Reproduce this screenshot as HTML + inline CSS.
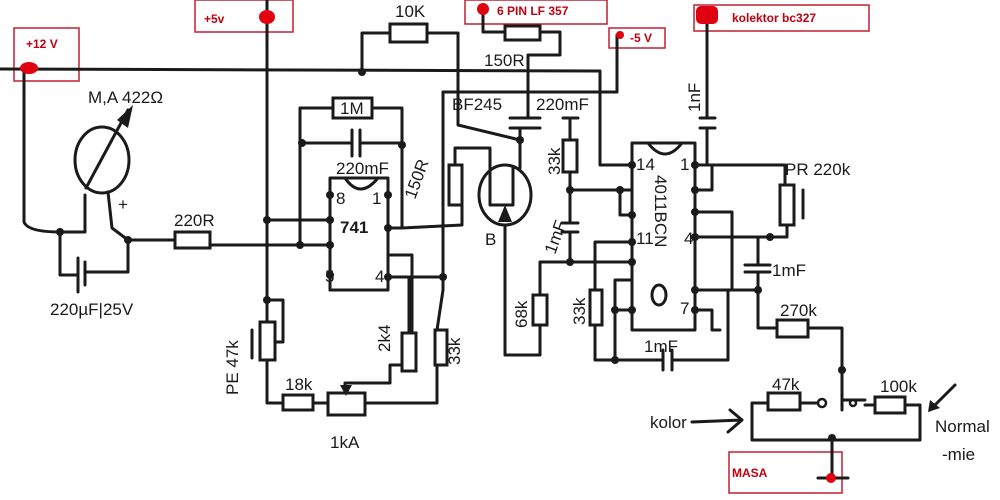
<!DOCTYPE html>
<html><head><meta charset="utf-8"><style>
html,body{margin:0;padding:0;background:#fff;width:1000px;height:500px;overflow:hidden}
svg{display:block}
.w{stroke:#1a1a1a;stroke-width:3;fill:none;stroke-linecap:round;stroke-linejoin:round}
.b{stroke:#1a1a1a;stroke-width:3;fill:#fff}
.n{fill:#1a1a1a}
.t{font-family:"Liberation Sans",sans-serif;fill:#1a1a1a;font-size:17px}
.r{font-family:"Liberation Sans",sans-serif;fill:#c00010;font-weight:bold;font-size:12px}
.rb{fill:none;stroke:#c02030;stroke-width:1.5}
</style></head><body>
<svg width="1000" height="500" viewBox="0 0 1000 500">
<rect class="rb" x="14" y="28" width="65" height="53"/><text class="r" x="26" y="48">+12 V</text>
<rect class="rb" x="195" y="0" width="98" height="32"/><text class="r" x="204" y="23">+5v</text>
<rect class="rb" x="465" y="0" width="142" height="24"/><text class="r" x="497" y="15">6 PIN LF 357</text>
<rect class="rb" x="609" y="28" width="56" height="20"/><text class="r" x="630" y="42">-5 V</text>
<rect class="rb" x="694" y="5" width="175" height="26"/><text class="r" x="732" y="22">kolektor bc327</text>
<rect class="rb" x="729" y="452" width="113" height="41"/><text class="r" x="732" y="477">MASA</text>
<path class="w" d="M0 69 L600 71 L600 165 L632 165"/>
<path class="w" d="M24 70 L24 222 Q28 232 60 232 L85 232 L85 195"/>
<path class="w" d="M267 0 L267 403 L283 403"/>
<path class="w" d="M362 72 L362 33 L390 33 M427 33 L458 33 L458 125 L520 140"/>
<rect class="b" x="390" y="24" width="37" height="18"/><text class="t" x="395" y="17">10K</text>
<path class="w" d="M483 10 L483 32 L505 32 M540 32 L560 32 L560 55 L528 55 L528 92"/>
<rect class="b" x="505" y="26" width="35" height="14"/><text class="t" x="484" y="66" font-size="15">150R</text>
<path class="w" d="M443 92 L617 92 L617 35"/>
<path class="w" d="M443 92 L443 290"/>
<path class="w" d="M707 15 L707 118 M707 130 L707 165"/>
<ellipse class="w" cx="102" cy="160" rx="27" ry="33"/>
<path class="w" d="M86 188 L128 110"/>
<polygon class="n" points="133,105 117,120 128,128"/>
<text class="t" x="88" y="103" font-size="20">M,A 422Ω</text>
<text class="t" x="118" y="210" font-size="20">+</text>
<path class="w" d="M108 192 L112 228 L128 240 L175 240"/>
<rect class="b" x="175" y="232" width="35" height="16"/>
<text class="t" x="174" y="226">220R</text>
<path class="w" d="M210 245 L330 245"/>
<path class="w" d="M60 232 L60 275 L78 275 M78 258 L78 292 M85 262 L85 285 M85 272 L128 272 L128 240"/>
<text class="t" x="50" y="315" font-size="19">220µF|25V</text>
<rect class="w" x="330" y="178" width="58" height="112"/>
<path class="w" d="M345 178 Q360 200 378 178"/>
<text class="t" x="336" y="204">8</text><text class="t" x="372" y="204">1</text>
<text class="t" x="340" y="233" font-size="11" font-weight="bold">741</text>
<text class="t" x="325" y="282">5</text><text class="t" x="375" y="282">4</text>
<path class="w" d="M267 220 L330 220 M300 245 L300 108 L333 108 M372 108 L402 108 L402 228 M300 143 L352 143 M360 143 L402 143 M352 130 L352 156 M360 130 L360 156"/>
<rect class="b" x="333" y="98" width="39" height="20"/><text class="t" x="340" y="114">1M</text>
<text class="t" x="336" y="174">220mF</text>
<path class="w" d="M388 228 L402 228 L462 225 L462 205 M455 165 L455 148 L490 148 L490 170"/>
<rect class="b" x="449" y="165" width="13" height="40"/>
<text class="t" x="415" y="200" transform="rotate(-70 415 200)">150R</text>
<path class="w" d="M388 277 L443 277 M388 255 L412 255 L412 335 M330 275 L330 290"/>
<rect class="b" x="260" y="322" width="15" height="38"/>
<path class="w" d="M267 300 L283 300 L283 342 L275 342 M252 330 L252 358"/>
<text class="t" x="238" y="395" transform="rotate(-90 238 395)" font-size="15">PE 47k</text>
<rect class="b" x="283" y="395" width="30" height="15"/><text class="t" x="285" y="390">18k</text>
<path class="w" d="M313 403 L328 403"/>
<rect class="b" x="328" y="393" width="37" height="22"/>
<text class="t" x="330" y="448" font-size="20">1kA</text>
<path class="w" d="M365 403 L437 403 L437 365"/>
<rect class="b" x="435" y="330" width="12" height="35"/>
<path class="w" d="M437 330 L443 290"/>
<rect class="b" x="402" y="333" width="14" height="38"/>
<path class="w" d="M409 333 L409 277 M402 365 L390 365 L390 383 L345 383 L345 393"/>
<polygon class="n" points="340,385 352,385 346,396"/>
<text class="t" x="390" y="352" transform="rotate(-90 390 352)" font-size="14">2k4</text>
<text class="t" x="460" y="365" transform="rotate(-90 460 365)" font-size="14">33k</text>
<ellipse class="w" cx="505" cy="195" rx="26" ry="30"/>
<path class="w" d="M490 170 L490 205 M513 168 L513 205 M490 205 L513 205 M520 140 L520 168 M505 225 L505 355 L540 355 L540 325"/>
<polygon class="n" points="505,205 498,222 512,222"/>
<text class="t" x="452" y="110" font-size="16">BF245</text>
<text class="t" x="485" y="245" font-size="19">B</text>
<path class="w" d="M528 92 L528 118 M510 118 L540 118 M510 128 L540 128 M520 128 L520 140"/>
<text class="t" x="536" y="110" font-size="16">220mF</text>
<rect class="b" x="533" y="295" width="14" height="30"/>
<path class="w" d="M540 295 L540 262 L632 262"/>
<text class="t" x="527" y="328" transform="rotate(-90 527 328)" font-size="15">68k</text>
<path class="w" d="M563 118 L578 118 M570 118 L570 140 M570 172 L570 223 M562 223 L578 223 M562 232 L578 232 M570 232 L570 262 M570 190 L632 190 M620 190 L620 215 L632 215"/>
<rect class="b" x="563" y="140" width="14" height="32"/>
<text class="t" x="560" y="175" transform="rotate(-90 560 175)" font-size="15">33k</text>
<text class="t" x="555" y="255" transform="rotate(-70 555 255)" font-size="15">1mF</text>
<rect class="w" x="632" y="143" width="63" height="187"/>
<path class="w" d="M648 143 Q665 165 682 143"/>
<text class="t" x="655" y="175" transform="rotate(90 655 175)" font-size="20">4011BCN</text>
<text class="t" x="636" y="170" font-size="12">14</text><text class="t" x="680" y="170" font-size="12">1</text>
<text class="t" x="636" y="244" font-size="12">11</text><text class="t" x="684" y="244" font-size="12">4</text>
<text class="t" x="680" y="314" font-size="12">7</text>
<ellipse class="w" cx="659" cy="295" rx="7" ry="10"/>
<path class="w" d="M632 242 L595 242 L595 290 M595 325 L595 360 L663 360 M672 360 L728 360 L728 290 M663 350 L663 370 M672 350 L672 370 M632 280 L615 280 L615 360 M632 310 L618 310"/>
<rect class="b" x="590" y="290" width="12" height="35"/>
<text class="t" x="585" y="325" transform="rotate(-90 585 325)" font-size="15">33k</text>
<text class="t" x="644" y="352" font-size="14">1mF</text>
<path class="w" d="M695 165 L785 165 L785 185 M695 190 L712 190 L712 165 M695 212 L732 212 L732 290 M695 237 L770 237 M695 290 L758 290 M695 310 L712 310 L712 330 L720 330 M745 265 L770 265 M745 272 L770 272 M758 237 L758 265 M758 272 L758 328 L777 328"/>
<path class="w" d="M700 118 L715 118 M700 128 L715 128"/>
<text class="t" x="700" y="112" transform="rotate(-90 700 112)" font-size="15">1nF</text>
<rect class="b" x="780" y="185" width="14" height="40"/>
<path class="w" d="M787 225 L787 237 L770 237 M803 190 L803 218"/>
<text class="t" x="785" y="175" font-size="18">PR 220k</text>
<text class="t" x="772" y="276" font-size="16">1mF</text>
<rect class="b" x="777" y="320" width="31" height="17"/><text class="t" x="780" y="316">270k</text>
<path class="w" d="M808 328 L842 328 L842 400 L865 400 M842 400 L842 410"/>
<path class="w" d="M820 403 L800 403 M768 403 L752 403 L752 440 L920 440 L920 405 L905 405 M875 405 L865 405 M832 440 L832 478 M818 478 L848 478"/>
<rect class="b" x="768" y="393" width="32" height="17"/><text class="t" x="772" y="390">47k</text>
<rect class="b" x="875" y="397" width="30" height="16"/><text class="t" x="880" y="392">100k</text>
<circle cx="822" cy="403" r="4" class="b" style="stroke-width:2.5"/><circle cx="853" cy="403" r="3" class="b" style="stroke-width:2.5"/>
<text class="t" x="650" y="428" font-size="18">kolor</text>
<path class="w" d="M692 422 L742 420 M730 410 L742 420 L728 432"/>
<path class="w" d="M955 385 L930 410"/><polygon class="n" points="928,412 930,400 940,408"/>
<text class="t" x="935" y="432" font-size="18">Normal</text><text class="t" x="942" y="460" font-size="18">-mie</text>
<g class="n">
<circle cx="362" cy="72" r="4"/><circle cx="267" cy="220" r="4"/><circle cx="300" cy="245" r="4"/><circle cx="60" cy="232" r="4"/>
<circle cx="128" cy="240" r="4"/><circle cx="302" cy="143" r="4"/><circle cx="402" cy="145" r="4"/><circle cx="330" cy="195" r="4"/>
<circle cx="388" cy="195" r="4"/><circle cx="330" cy="220" r="4"/><circle cx="330" cy="245" r="4"/><circle cx="330" cy="275" r="4"/>
<circle cx="388" cy="228" r="4"/><circle cx="388" cy="277" r="4"/><circle cx="443" cy="277" r="4"/><circle cx="267" cy="300" r="4"/>
<circle cx="520" cy="140" r="4"/><circle cx="570" cy="190" r="4"/><circle cx="570" cy="262" r="4"/><circle cx="620" cy="190" r="4"/>
<circle cx="632" cy="165" r="4"/><circle cx="632" cy="215" r="4"/><circle cx="632" cy="242" r="4"/><circle cx="632" cy="262" r="4"/>
<circle cx="615" cy="310" r="4"/><circle cx="632" cy="310" r="4"/><circle cx="615" cy="360" r="4"/><circle cx="695" cy="165" r="4"/>
<circle cx="695" cy="190" r="4"/><circle cx="695" cy="212" r="4"/><circle cx="695" cy="237" r="4"/><circle cx="695" cy="290" r="4"/>
<circle cx="695" cy="310" r="4"/><circle cx="758" cy="290" r="4"/><circle cx="770" cy="237" r="4"/><circle cx="842" cy="370" r="4"/>
<circle cx="832" cy="438" r="4"/>
</g>
<g fill="#e00010">
<ellipse cx="29" cy="68" rx="9" ry="6"/><ellipse cx="267" cy="17" rx="8" ry="7"/><circle cx="483" cy="9" r="6"/>
<circle cx="620" cy="35" r="4"/><rect x="696" y="6" width="22" height="18" rx="5"/><circle cx="831" cy="478" r="5"/>
</g>
</svg>
</body></html>
